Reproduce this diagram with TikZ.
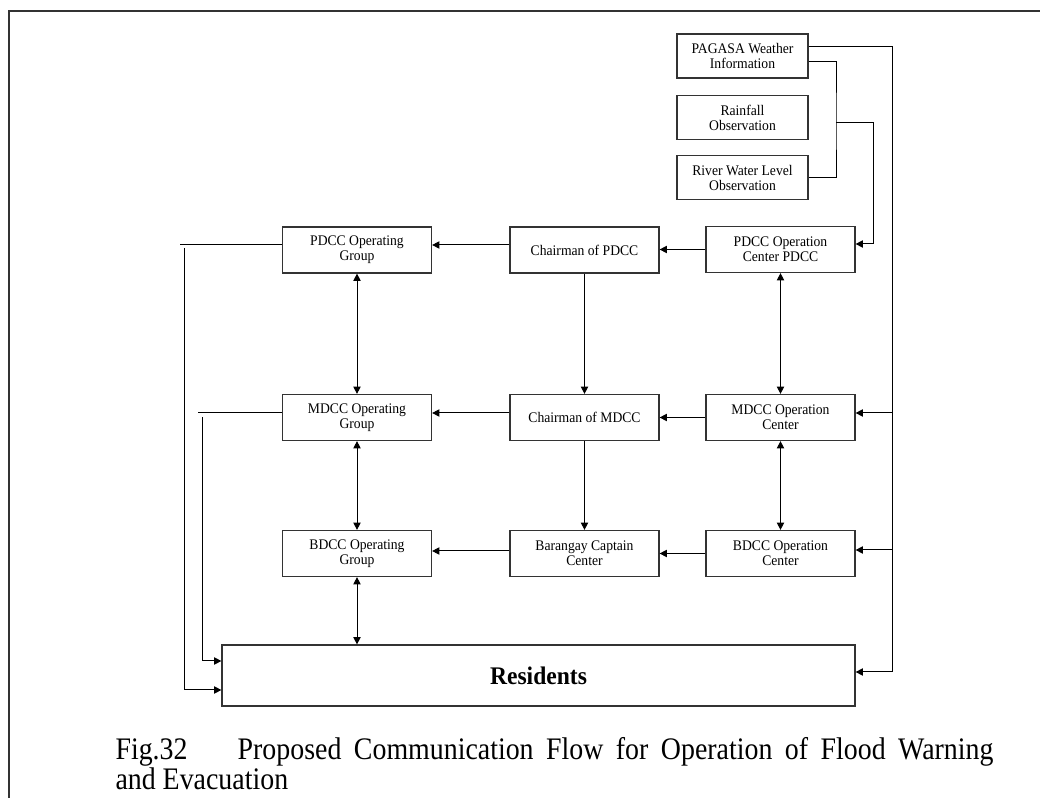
\documentclass[tikz,border=0pt]{standalone}
\usepackage{fontspec}
\setmainfont{Liberation Serif}
\newfontfamily\boxfont[FakeStretch=0.93]{Liberation Serif}
\newfontfamily\capfont[FakeStretch=0.89]{Liberation Serif}
\usetikzlibrary{arrows.meta}

\definecolor{edge}{RGB}{51,51,51}
\tikzset{every picture/.style={line width=0.75pt}}
\tikzset{
  box/.style={draw=edge, line width=0.9pt, minimum width=111.75pt, minimum height=34.5pt, inner sep=0pt, align=center, font=\boxfont\fontsize{11}{11.25}\selectfont},
  srcbox/.style={box, minimum width=98.25pt, minimum height=33pt},
  tip/.style={-{Triangle[length=5.5pt,width=5.5pt]}},
  twotip/.style={{Triangle[length=5.5pt,width=5.5pt]}-{Triangle[length=5.5pt,width=5.5pt]}},
}

\begin{document}
\begin{tikzpicture}[x=0.75pt,y=0.75pt,yscale=-1,xscale=1]
\useasboundingbox (0,0) rectangle (1040,798);

%Shape: Frame
\draw [color=edge, line width=1.3pt] (9,830) -- (9,11) -- (1060,11);

%Shape: Rectangle (sources)
\node [srcbox] (pagasa) at (742.5,56) {PAGASA Weather\\Information};
\node [srcbox] (rain) at (742.5,117.5) {Rainfall\\Observation};
\node [srcbox] (river) at (742.5,177.5) {River Water Level\\Observation};

%Shape: Rectangle (PDCC row)
\node [box] (pdccOG) at (357,250) {PDCC Operating\\Group};
\node [box] (chairP) at (584.5,250) {Chairman of PDCC};
\node [box] (pdccOC) at (780.5,249.5) {PDCC Operation\\Center PDCC};

%Shape: Rectangle (MDCC row)
\node [box] (mdccOG) at (357,417.5) {MDCC Operating\\Group};
\node [box] (chairM) at (584.5,417.5) {Chairman of MDCC};
\node [box] (mdccOC) at (780.5,417.5) {MDCC Operation\\Center};

%Shape: Rectangle (BDCC row)
\node [box] (bdccOG) at (357,553.5) {BDCC Operating\\Group};
\node [box] (barangay) at (584.5,553.5) {Barangay Captain\\Center};
\node [box] (bdccOC) at (780.5,553.5) {BDCC Operation\\Center};

%Shape: Rectangle (residents)
\node [box, minimum width=474.75pt, minimum height=45.75pt, font=\boxfont\bfseries\fontsize{19}{19}\selectfont] (residents) at (538.5,675.5) {Residents};

%bends of the lines
\coordinate (trunk) at (892,672);
\coordinate (fork) at (836,123);
\coordinate (drop) at (873,244);
\coordinate (outerL) at (184,690);
\coordinate (innerL) at (202,661);

%Straight Lines (weather info)
\draw [tip] (pagasa.east |- 0,47) -| (trunk) -- (trunk -| residents.east);
\draw [tip] (trunk |- 0,413) -- (mdccOC.east |- 0,413);
\draw [tip] (trunk |- 0,550) -- (bdccOC.east |- 0,550);
\draw (pagasa.east |- 0,62) -| (fork) |- (river.east);
\draw [tip] (fork) -| (drop) -- (drop -| pdccOC.east);

%Straight Lines (left side)
\draw (pdccOG.west |- 0,245) -- (180,245);
\draw [tip] (outerL |- 0,248) -- (outerL) -- (outerL -| residents.west);
\draw (mdccOG.west |- 0,413) -- (198,413);
\draw [tip] (innerL |- 0,417) -- (innerL) -- (innerL -| residents.west);

%Straight Lines (across the rows)
\draw [tip] (pdccOC.west) -- (chairP.east |- pdccOC.west);
\draw [tip] (mdccOC.west) -- (chairM.east |- mdccOC.west);
\draw [tip] (bdccOC.west) -- (barangay.east |- bdccOC.west);
\draw [tip] (chairP.west |- 0,245) -- (pdccOG.east |- 0,245);
\draw [tip] (chairM.west |- 0,413) -- (mdccOG.east |- 0,413);
\draw [tip] (barangay.west |- 0,551) -- (bdccOG.east |- 0,551);

%Straight Lines (down the columns)
\draw [tip] (chairP) -- (chairM);
\draw [tip] (chairM) -- (barangay);
\draw [twotip] (pdccOG) -- (mdccOG);
\draw [twotip] (mdccOG) -- (bdccOG);
\draw [twotip] (bdccOG.south) -- (bdccOG.south |- residents.north);
\draw [twotip] (pdccOC) -- (mdccOC);
\draw [twotip] (mdccOC) -- (bdccOC);

% Text Node
\node [anchor=north west, inner sep=0pt, text width=658.5pt, align=justify, font=\capfont\fontsize{23.5}{22.5}\selectfont] (caption) at (115,737) {Fig.32\hspace{1.6em}Proposed Communication Flow for Operation of Flood Warning\linebreak and Evacuation};

\end{tikzpicture}
\end{document}
